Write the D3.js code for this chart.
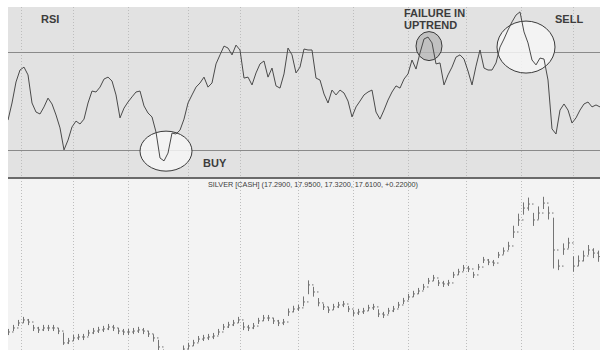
<!DOCTYPE html>
<html>
<head>
<meta charset="utf-8">
<script src="https://cdn.jsdelivr.net/npm/d3@7"></script>
<style>
  html, body { margin: 0; padding: 0; background: #ffffff; }
  svg { display: block; }
  text { font-family: "Liberation Sans", Arial, sans-serif; }
</style>
</head>
<body>
<svg id="chart" width="600" height="358"></svg>
<script>
// ---------- DATA ----------
// RSI (14) values, evenly sampled across the period
const rsiValues = [
  42.2,49.2,57.8,62.7,63.9,60.7,49.2,45.5,44.7,47.6,
  51.2,48.8,44.3,39.0,30.0,34.0,39.4,41.8,40.6,42.6,
  49.2,54.1,53.7,55.7,59.0,59.8,58.2,52.5,43.1,47.1,
  49.6,51.7,53.7,54.1,48.0,45.1,43.5,37.3,26.7,25.5,
  28.7,36.9,36.5,38.1,42.6,49.2,52.5,55.7,57.4,59.8,
  55.7,57.4,65.2,68.9,72.5,71.7,68.9,72.9,70.9,59.4,
  59.8,56.6,61.5,65.2,66.4,59.8,63.5,56.2,55.3,61.1,
  71.7,68.9,61.5,63.9,71.3,70.9,70.9,59.4,58.6,52.9,
  49.2,54.5,52.5,54.5,53.3,50.0,43.5,47.6,50.0,52.5,
  53.7,54.5,45.5,42.6,46.3,50.4,53.7,56.2,55.3,59.0,
  61.1,66.8,63.1,69.7,75.4,76.2,73.8,65.2,65.6,56.6,
  60.7,63.9,68.0,68.9,67.2,62.3,56.6,64.3,70.9,63.5,
  62.7,62.7,65.6,72.1,75.4,79.1,82.4,85.2,86.5,78.3,
  73.8,66.8,64.8,67.6,67.2,58.6,38.6,36.5,46.3,48.8,
  46.3,41.0,43.1,46.3,48.8,49.6,47.6,48.4,47.6
];
const rsiLevels = [70, 30];

// Silver (cash) price bars
const priceHigh = [
  13.08,13.33,13.64,13.83,13.70,13.33,13.21,13.33,13.33,13.33,
  13.14,12.85,12.52,12.71,12.77,12.77,13.02,13.14,13.21,13.27,
  13.39,13.33,13.14,13.08,13.08,13.14,13.21,13.14,12.96,12.75,
  12.40,11.80,11.60,11.60,11.75,12.05,12.22,12.40,12.64,12.71,
  12.77,12.83,13.08,13.39,13.52,13.64,13.83,13.50,13.33,13.45,
  13.77,13.95,13.95,13.77,13.64,13.70,14.35,14.52,14.58,15.10,
  16.10,15.70,15.00,14.65,14.45,14.64,14.76,14.82,14.51,14.26,
  14.33,14.39,14.58,14.64,14.30,14.14,14.39,14.51,14.76,15.01,
  15.26,15.45,15.63,15.88,16.25,16.44,16.13,16.07,16.13,16.63,
  16.82,17.06,17.00,16.63,17.12,17.56,17.43,17.37,17.87,18.15,
  18.50,19.50,20.25,20.95,21.25,20.30,20.70,21.30,20.70,20.00,
  17.40,18.40,18.75,17.60,17.65,17.95,18.30,18.10,17.95
];
const priceLow = [
  12.76,13.01,13.32,13.51,13.38,13.01,12.89,13.01,13.01,13.01,
  12.82,12.15,12.20,12.39,12.45,12.45,12.70,12.82,12.89,12.95,
  13.07,13.01,12.82,12.76,12.76,12.82,12.89,12.82,12.64,12.35,
  11.80,11.30,11.15,11.15,11.35,11.65,11.88,12.08,12.32,12.39,
  12.45,12.51,12.76,13.07,13.20,13.32,13.51,13.07,13.01,13.13,
  13.45,13.63,13.63,13.45,13.32,13.38,13.95,14.18,14.26,14.55,
  15.30,15.15,14.55,14.32,14.13,14.32,14.44,14.50,14.19,13.94,
  14.01,14.07,14.26,14.32,13.88,13.82,14.07,14.19,14.44,14.69,
  14.94,15.13,15.31,15.56,15.93,16.12,15.81,15.75,15.81,16.31,
  16.50,16.74,16.68,16.31,16.80,17.24,17.11,17.05,17.55,17.77,
  18.05,18.80,19.55,20.25,20.50,19.55,19.95,20.60,19.95,16.90,
  16.80,17.75,18.15,16.70,17.05,17.35,17.75,17.55,17.32
];
const priceClose = [
  12.92,13.17,13.48,13.67,13.54,13.17,13.05,13.17,13.17,13.17,
  12.98,12.24,12.36,12.55,12.61,12.61,12.86,12.98,13.05,13.11,
  13.23,13.17,12.98,12.92,12.92,12.98,13.05,12.98,12.80,12.55,
  11.99,11.55,11.36,11.36,11.55,11.86,12.05,12.24,12.48,12.55,
  12.61,12.67,12.92,13.23,13.36,13.48,13.67,13.23,13.17,13.29,
  13.61,13.79,13.79,13.61,13.48,13.54,14.17,14.35,14.42,14.79,
  15.85,15.41,14.73,14.48,14.29,14.48,14.60,14.66,14.35,14.10,
  14.17,14.23,14.42,14.48,14.04,13.98,14.23,14.35,14.60,14.85,
  15.10,15.29,15.47,15.72,16.09,16.28,15.97,15.91,15.97,16.47,
  16.66,16.90,16.84,16.47,16.96,17.40,17.27,17.21,17.71,17.96,
  18.27,19.14,19.89,20.63,20.88,19.89,20.32,20.94,20.32,18.02,
  17.02,18.08,18.46,17.02,17.34,17.65,18.02,17.83,17.61
];
const priceTitle = "SILVER [CASH] (17.2900, 17.9500, 17.3200, 17.6100, +0.22000)";

// trading-session index of each month start (vertical grid)
const monthStartSessions = [5, 26, 48, 72, 93, 116, 138, 160, 183, 205, 226];
const totalSessions = 236.8;

// ---------- LAYOUT ----------
const left = 8, right = 600;
const rsiTop = 7, rsiBottom = 178;
const priceTop = 178, priceBottom = 350;

const svg = d3.select("#chart");

const xSession = d3.scaleLinear().domain([0, totalSessions]).range([left, right]);
const xRsi = d3.scaleLinear().domain([0, rsiValues.length - 1]).range([left, right]);
const xPrice = d3.scaleLinear().domain([0, priceClose.length - 1]).range([left, 598]);
const yRsi = d3.scaleLinear().domain([18.5, 88.5]).range([rsiBottom, rsiTop]);
const yPrice = d3.scaleLinear().domain([11.8, 22.5]).range([priceBottom, priceTop]);

// panels
svg.append("rect").attr("x", left).attr("y", rsiTop)
  .attr("width", right - left).attr("height", rsiBottom - rsiTop).attr("fill", "#e2e2e2");
svg.append("rect").attr("x", left).attr("y", priceTop)
  .attr("width", right - left).attr("height", priceBottom - priceTop).attr("fill", "#f3f3f3");

const defs = svg.append("defs");
defs.append("clipPath").attr("id", "clipRsi").append("rect")
  .attr("x", left).attr("y", rsiTop).attr("width", right - left).attr("height", rsiBottom - rsiTop);
defs.append("clipPath").attr("id", "clipPrice").append("rect")
  .attr("x", left).attr("y", priceTop).attr("width", right - left).attr("height", priceBottom - priceTop);

// vertical month grid (dotted) in both panels
svg.append("g").selectAll("line").data(monthStartSessions).join("line")
  .attr("x1", d => Math.round(xSession(d)) + 0.5).attr("x2", d => Math.round(xSession(d)) + 0.5)
  .attr("y1", rsiTop).attr("y2", priceBottom)
  .attr("stroke", "#bdbdbd").attr("stroke-width", 1).attr("stroke-dasharray", "1,2");

// RSI level lines
svg.append("g").selectAll("line").data(rsiLevels).join("line")
  .attr("x1", left).attr("x2", right)
  .attr("y1", d => Math.round(yRsi(d)) + 0.5).attr("y2", d => Math.round(yRsi(d)) + 0.5)
  .attr("stroke", "#8a8a8a").attr("stroke-width", 1.2);

// annotation ellipses (drawn under the line)
const ell = svg.append("g");
ell.append("ellipse").attr("cx", xRsi(39.5)).attr("cy", yRsi(29.5)).attr("rx", 26).attr("ry", 20)
  .attr("fill", "#f6f6f6").attr("fill-opacity", 0.85).attr("stroke", "#3a3a3a").attr("stroke-width", 1);
ell.append("ellipse").attr("cx", xRsi(105.25)).attr("cy", yRsi(72.5)).attr("rx", 13).attr("ry", 14.5)
  .attr("fill", "#b9b9b9").attr("fill-opacity", 0.8).attr("stroke", "#3a3a3a").attr("stroke-width", 1);
ell.append("ellipse").attr("cx", xRsi(129.5)).attr("cy", yRsi(72.1)).attr("rx", 29).attr("ry", 26)
  .attr("fill", "#f6f6f6").attr("fill-opacity", 0.85).attr("stroke", "#3a3a3a").attr("stroke-width", 1);

// RSI line
svg.append("path").datum(rsiValues)
  .attr("clip-path", "url(#clipRsi)")
  .attr("d", d3.line().x((d, i) => xRsi(i)).y(d => yRsi(d)))
  .attr("fill", "none").attr("stroke", "#4a4a4a").attr("stroke-width", 1)
  .attr("stroke-linejoin", "round");

// separator between panels
svg.append("line").attr("x1", left).attr("x2", right)
  .attr("y1", priceTop).attr("y2", priceTop)
  .attr("stroke", "#6a6a6a").attr("stroke-width", 2);

// price OHLC bars
const bars = svg.append("g").attr("clip-path", "url(#clipPrice)")
  .attr("stroke", "#747474").attr("stroke-width", 1);
bars.selectAll("line.hl").data(priceClose).join("line").attr("class", "hl")
  .attr("x1", (d, i) => Math.round(xPrice(i)) + 0.5).attr("x2", (d, i) => Math.round(xPrice(i)) + 0.5)
  .attr("y1", (d, i) => yPrice(priceHigh[i]) - 0.5).attr("y2", (d, i) => yPrice(priceLow[i]) + 0.5);
bars.selectAll("line.cl").data(priceClose).join("line").attr("class", "cl")
  .attr("x1", (d, i) => Math.round(xPrice(i)) + 0.5).attr("x2", (d, i) => Math.round(xPrice(i)) + 2)
  .attr("y1", d => yPrice(d)).attr("y2", d => yPrice(d));
bars.selectAll("line.op").data(priceClose).join("line").attr("class", "op")
  .attr("x1", (d, i) => Math.round(xPrice(i)) - 1).attr("x2", (d, i) => Math.round(xPrice(i)) + 0.5)
  .attr("y1", (d, i) => yPrice(i > 0 ? priceClose[i - 1] : d))
  .attr("y2", (d, i) => yPrice(i > 0 ? priceClose[i - 1] : d));

// texts
const lbl = svg.append("g").attr("fill", "#3c3c3c").attr("font-weight", "bold").attr("font-size", 11);
lbl.append("text").attr("x", 41).attr("y", 23).text("RSI");
lbl.append("text").attr("x", 203).attr("y", 167).text("BUY");
lbl.append("text").attr("x", 404).attr("y", 17).text("FAILURE IN");
lbl.append("text").attr("x", 404).attr("y", 29).text("UPTREND");
lbl.append("text").attr("x", 555).attr("y", 23).text("SELL");

svg.append("text").attr("x", 208).attr("y", 187)
  .attr("font-size", 6.5).attr("fill", "#3c3c3c")
  .attr("textLength", 210).attr("lengthAdjust", "spacingAndGlyphs")
  .text(priceTitle);
</script>
</body>
</html>
